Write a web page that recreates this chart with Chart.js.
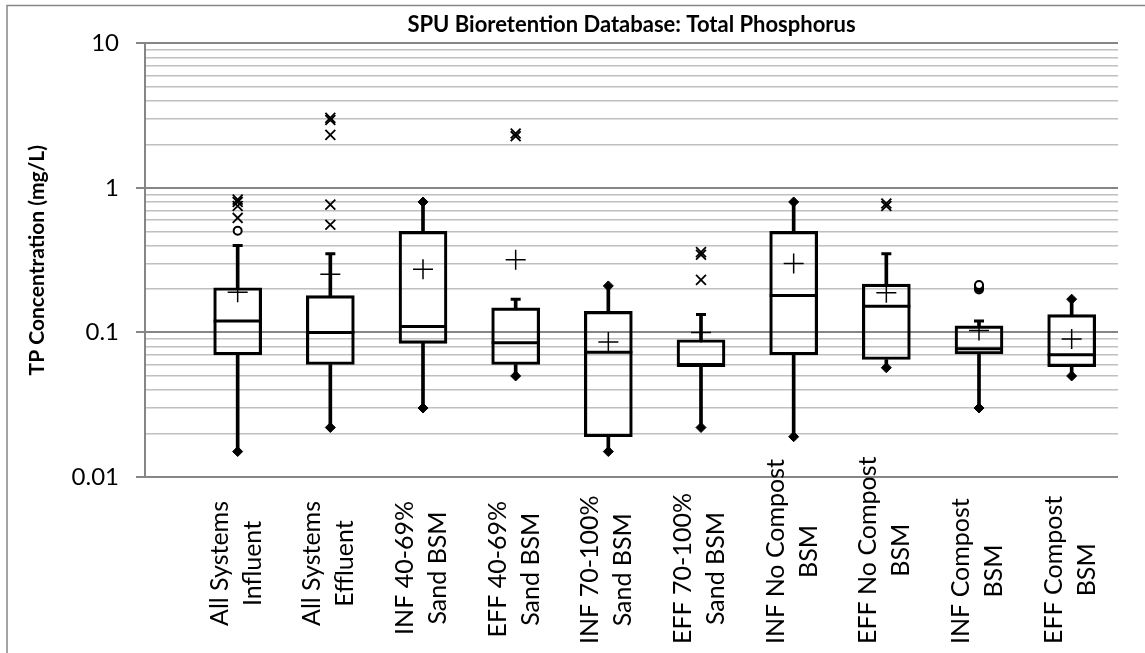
<!DOCTYPE html>
<html>
<head>
<meta charset="utf-8">
<title>SPU Bioretention Database: Total Phosphorus</title>
<script src="https://cdn.jsdelivr.net/npm/chart.js@4.4.1/dist/chart.umd.min.js"></script>
<style>
    html, body { margin: 0; padding: 0; background: #fff; }
    canvas { display: block; }
</style>
</head>
<body>
<canvas id="tpChart" width="1145" height="653"></canvas>
<script>
// box plot summary per group (mg/L)
const categories = [
    ['All Systems', 'Influent'],
    ['All Systems', 'Effluent'],
    ['INF 40-69%', 'Sand BSM'],
    ['EFF 40-69%', 'Sand BSM'],
    ['INF 70-100%', 'Sand BSM'],
    ['EFF 70-100%', 'Sand BSM'],
    ['INF No Compost', 'BSM'],
    ['EFF No Compost', 'BSM'],
    ['INF Compost', 'BSM'],
    ['EFF Compost', 'BSM']
];
const whiskerLow  = [0.015, 0.022, 0.03, 0.05, 0.015, 0.022, 0.019, 0.057, 0.03, 0.05];
const q1          = [0.07, 0.06, 0.084, 0.06, 0.019, 0.058, 0.07, 0.065, 0.071, 0.058];
const median      = [0.12, 0.10, 0.11, 0.085, 0.073, 0.06, 0.18, 0.152, 0.077, 0.07];
const q3          = [0.204, 0.18, 0.5, 0.148, 0.14, 0.089, 0.5, 0.216, 0.111, 0.133];
const whiskerHigh = [0.40, 0.35, 0.8, 0.17, 0.21, 0.133, 0.8, 0.35, 0.12, 0.17];
const mean        = [0.19, 0.253, 0.274, 0.318, 0.086, 0.10, 0.30, 0.188, 0.103, 0.09];
// outliers: "x" markers and circle markers
const xOutliers = [
    [0.62, 0.75, 0.80, 0.83],
    [0.556, 0.766, 2.33, 2.95, 3.05],
    [],
    [2.28, 2.38],
    [],
    [0.231, 0.345, 0.36],
    [],
    [0.75, 0.78],
    [],
    []
];
const circleOutliers = [[0.505], [], [], [], [], [], [], [], [0.198, 0.203, 0.208, 0.213], []];

const decades = [0.01, 0.1, 1, 10];
const yTickValues = [];
decades.slice(0, -1).forEach(d => { for (let k = 1; k < 10; k++) yTickValues.push(d * k); });
yTickValues.push(10);

const isDecade = v => decades.some(d => Math.abs(v - d) < d * 1e-6);
const pts = (vals) => vals.map((y, i) => ({x: i, y: y}));

const hasOutlier = categories.map((_, i) => xOutliers[i].length + circleOutliers[i].length > 0);
const capPoints = [];
const diamondPoints = [];
categories.forEach((_, i) => {
    diamondPoints.push({x: i, y: whiskerLow[i]});
    if (hasOutlier[i]) capPoints.push({x: i, y: whiskerHigh[i]});
    else diamondPoints.push({x: i, y: whiskerHigh[i]});
});
const flat = (lists) => lists.flatMap((list, i) => list.map(y => ({x: i, y: y})));

// white page, outer frame and the two-line rotated category labels
const frameAndLabels = {
    id: 'frameAndLabels',
    beforeDraw(chart) {
        const ctx = chart.ctx;
        ctx.save();
        ctx.fillStyle = '#fff';
        ctx.fillRect(0, 0, chart.width, chart.height);
        ctx.strokeStyle = '#868686';
        ctx.lineWidth = 1.5;
        ctx.strokeRect(7, 5.5, chart.width + 20, chart.height + 20);
        ctx.restore();
    },
    afterDraw(chart) {
        const ctx = chart.ctx;
        const x = chart.scales.x;
        ctx.save();
        ctx.font = '25px Lato';
        ctx.fillStyle = '#000';
        ctx.textAlign = 'center';
        ctx.textBaseline = 'alphabetic';
        categories.forEach((lines, i) => {
            const px = x.getPixelForValue(i);
            const longest = Math.max(...lines.map(l => ctx.measureText(l).width));
            const top = Math.min(501, 644 - longest);
            ctx.save();
            ctx.translate(px, top + longest / 2);
            ctx.rotate(-Math.PI / 2);
            lines.forEach((line, j) => ctx.fillText(line, 0, j === 0 ? -10 : 23));
            ctx.restore();
        });
        ctx.restore();
    }
};

const black = '#000';
const config = {
    type: 'bar',
    data: {
        datasets: [
            {
                type: 'scatter', data: pts(mean), pointStyle: 'cross',
                pointRadius: 10, borderColor: black, borderWidth: 1.5
            },
            {
                type: 'scatter', data: pts(median), pointStyle: 'line',
                pointRadius: 24, borderColor: black, borderWidth: 3
            },
            {
                data: categories.map((_, i) => ({x: i, y: [q1[i], q3[i]]})),
                backgroundColor: 'rgba(0,0,0,0)', borderColor: black, borderWidth: 2.5,
                borderSkipped: false, barThickness: 48, grouped: false
            },
            {
                data: categories.map((_, i) => ({x: i, y: [q3[i], whiskerHigh[i]]})),
                backgroundColor: black, borderWidth: 0, barThickness: 3, grouped: false
            },
            {
                data: categories.map((_, i) => ({x: i, y: [whiskerLow[i], q1[i]]})),
                backgroundColor: black, borderWidth: 0, barThickness: 3, grouped: false
            },
            {
                type: 'scatter', data: capPoints, pointStyle: 'line',
                pointRadius: 5, borderColor: black, borderWidth: 3
            },
            {
                type: 'scatter', data: diamondPoints, pointStyle: 'rectRot',
                pointRadius: 5, backgroundColor: black, borderColor: black, borderWidth: 1
            },
            {
                type: 'scatter', data: flat(xOutliers), pointStyle: 'crossRot',
                pointRadius: 7, borderColor: black, borderWidth: 1.8
            },
            {
                type: 'scatter', data: flat(circleOutliers), pointStyle: 'circle',
                pointRadius: 4, backgroundColor: '#fff', borderColor: black, borderWidth: 2
            }
        ]
    },
    options: {
        responsive: false,
        animation: false,
        events: [],
        layout: { padding: { left: 0, right: 7.5, top: 0, bottom: 0 } },
        plugins: {
            legend: { display: false },
            tooltip: { enabled: false },
            title: {
                display: true,
                text: 'SPU Bioretention Database: Total Phosphorus',
                fullSize: false,
                color: black,
                font: { family: 'Lato', size: 22, weight: 'bold' },
                padding: { top: 12, bottom: 5 }
            }
        },
        scales: {
            x: {
                type: 'linear',
                min: -1,
                max: 9.5,
                offset: false,
                ticks: { display: false },
                grid: { display: false },
                border: { display: false },
                afterFit: s => { s.height = 176; }
            },
            y: {
                type: 'logarithmic',
                min: 0.01,
                max: 10,
                afterBuildTicks: s => { s.ticks = yTickValues.map(v => ({value: v})); },
                afterFit: s => { s.width = 145; },
                ticks: {
                    autoSkip: false,
                    padding: 17,
                    color: black,
                    font: { family: 'Lato', size: 24 },
                    callback: v => isDecade(v) ? String(+v.toPrecision(3)) : ''
                },
                grid: {
                    color: c => isDecade(c.tick.value) ? '#868686' : '#bfbfbf',
                    lineWidth: c => isDecade(c.tick.value) ? 2 : 1.5,
                    tickColor: c => isDecade(c.tick.value) ? '#868686' : 'rgba(0,0,0,0)',
                    tickLength: 9
                },
                border: { color: '#868686', width: 2 },
                title: {
                    display: true,
                    text: 'TP Concentration (mg/L)',
                    color: black,
                    font: { family: 'Lato', size: 21, weight: 'bold' },
                    padding: { top: 25, bottom: 0 }
                }
            }
        }
    },
    plugins: [frameAndLabels]
};

new Chart(document.getElementById('tpChart'), config);
</script>
</body>
</html>
